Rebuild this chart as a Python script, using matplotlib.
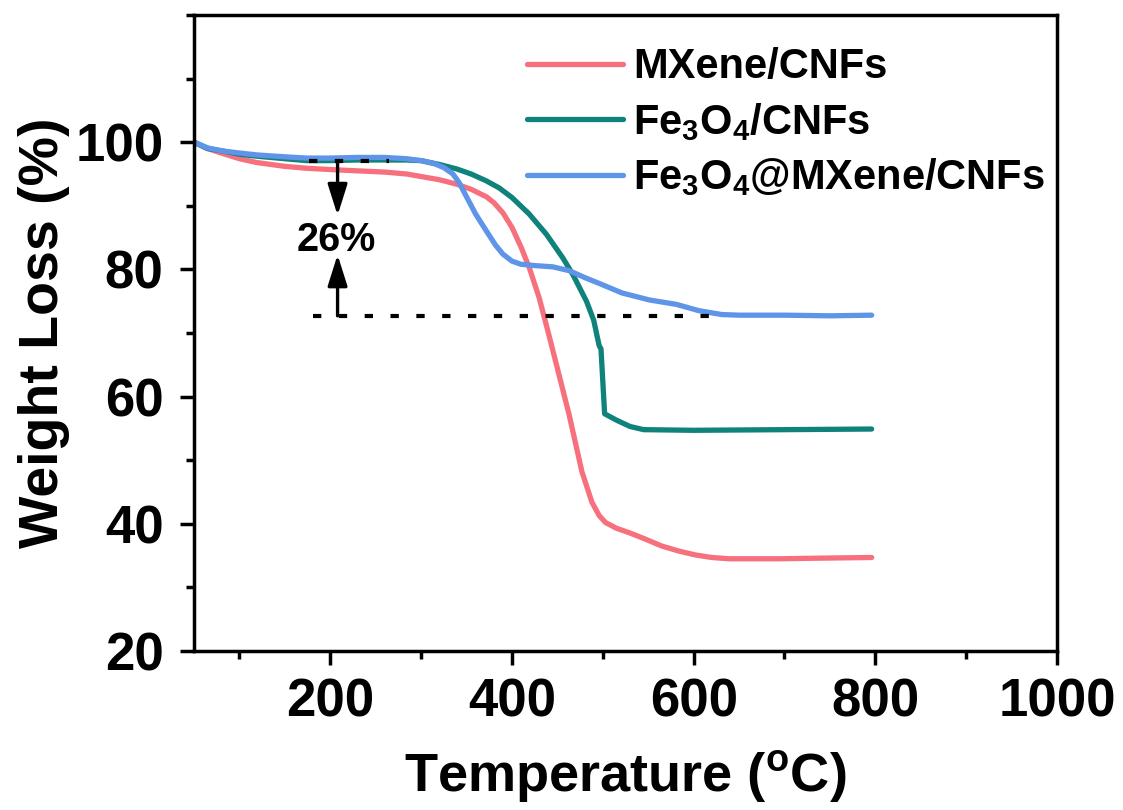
import matplotlib
matplotlib.use("Agg")
import matplotlib.pyplot as plt
from matplotlib.ticker import MultipleLocator

plt.rcParams['font.family'] = ['Liberation Sans', 'DejaVu Sans']
plt.rcParams['font.weight'] = 'bold'
plt.rcParams['mathtext.fontset'] = 'custom'
plt.rcParams['mathtext.rm'] = 'Liberation Sans:bold'
plt.rcParams['mathtext.it'] = 'Liberation Sans:bold'
plt.rcParams['mathtext.bf'] = 'Liberation Sans:bold'

# ---- data ----
t_mxene = [50, 65, 82, 100, 119, 150, 174, 200, 229, 260, 284, 300, 320, 339, 355,
           372, 380, 390, 400, 410, 419, 430, 441, 449, 463, 477, 488, 496, 503, 515, 529,
           545, 565, 584, 602, 620, 639, 660, 694, 740, 796]
w_mxene = [100, 99.0, 98.2, 97.4, 96.8, 96.2, 95.9, 95.7, 95.5, 95.3, 95.0, 94.6, 94.1,
           93.4, 92.6, 91.4, 90.5, 88.9, 86.6, 83.5, 80.3, 75.5, 69.5, 65.0, 57.1, 48.2, 43.4,
           41.3, 40.2, 39.3, 38.6, 37.7, 36.5, 35.7, 35.1, 34.7, 34.5, 34.5, 34.5, 34.6, 34.7]

t_fe3o4 = [50, 65, 82, 100, 119, 150, 174, 200, 229, 260, 284, 300, 320, 339, 355, 372,
           386, 400, 419, 438, 456, 467, 482, 490, 496, 498, 502, 515, 530, 545, 600, 700, 796]
w_fe3o4 = [100, 99.0, 98.6, 98.1, 97.8, 97.4, 97.1, 97.1, 97.2, 97.2, 97.2, 97.1, 96.5,
           95.8, 95.0, 93.9, 92.8, 91.3, 88.7, 85.5, 81.8, 79.2, 75.0, 72.0, 68.0, 67.5,
           57.3, 56.3, 55.3, 54.8, 54.7, 54.8, 54.9]

t_hybrid = [50, 65, 82, 100, 119, 150, 174, 200, 229, 260, 284, 300, 315, 325, 335, 342,
            350, 360, 372, 382, 390, 400, 410, 425, 445, 463, 482, 496, 521, 551, 581, 606,
            631, 650, 700, 750, 796]
w_hybrid = [100, 99.1, 98.6, 98.3, 98.0, 97.7, 97.5, 97.5, 97.6, 97.6, 97.4, 97.1, 96.6,
            96.0, 95.0, 93.6, 91.4, 88.7, 86.0, 83.8, 82.4, 81.3, 80.8, 80.6, 80.4, 79.8,
            78.6, 77.8, 76.3, 75.2, 74.5, 73.5, 72.9, 72.8, 72.8, 72.7, 72.8]

labels = ['MXene/CNFs', 'Fe$_3$O$_4$/CNFs', 'Fe$_3$O$_4$@MXene/CNFs']
colors = ['#F7707E', '#10827C', '#5E95E8']

upper_level = 97.0
lower_level = 72.7
upper_span = [176, 265]
lower_span = [181, 631]
arrow_T = 208
upper_tip = 88.5
lower_tip = 82.3
annot_text = '26%'

fig = plt.figure(figsize=(11.23, 8.10), dpi=100)
ax = fig.add_axes([0.1728, 0.1963, 0.7684, 0.7852])

for t, w, c, lab in [(t_mxene, w_mxene, colors[0], labels[0]),
                     (t_fe3o4, w_fe3o4, colors[1], labels[1]),
                     (t_hybrid, w_hybrid, colors[2], labels[2])]:
    ax.plot(t, w, color=c, lw=3.8, label=lab, solid_capstyle='round', solid_joinstyle='round')

# dotted guide lines
ax.plot(upper_span, [upper_level, upper_level], color='black', lw=3, dashes=(2, 4.2))
ax.plot(lower_span, [lower_level, lower_level], color='black', lw=3, dashes=(2, 4.2))

# arrows
astyle = '-|>,head_length=0.95,head_width=0.3'
ax.annotate('', xy=(arrow_T, upper_tip), xytext=(arrow_T, upper_level),
            arrowprops=dict(arrowstyle=astyle, color='black', lw=2.4,
                            shrinkA=0, shrinkB=0, mutation_scale=20))
ax.annotate('', xy=(arrow_T, lower_tip), xytext=(arrow_T, lower_level),
            arrowprops=dict(arrowstyle=astyle, color='black', lw=2.4,
                            shrinkA=0, shrinkB=0, mutation_scale=20))
ax.text(206, 84.6, annot_text, fontsize=28.5, fontweight='bold', ha='center', va='center')

ax.set_xlim(50, 1000)
ax.set_ylim(20, 120)
ax.xaxis.set_major_locator(MultipleLocator(200))
ax.xaxis.set_minor_locator(MultipleLocator(100))
ax.set_yticks([20, 40, 60, 80, 100])
ax.yaxis.set_minor_locator(MultipleLocator(10))

ax.tick_params(which='major', direction='out', length=10, width=2.5, labelsize=38)
ax.tick_params(axis='y', which='major', pad=12)
ax.tick_params(axis='x', which='major', pad=9)
ax.tick_params(which='minor', direction='out', length=5.5, width=2.5)
for lab in ax.get_xticklabels() + ax.get_yticklabels():
    lab.set_fontweight('bold')
for s in ax.spines.values():
    s.set_linewidth(2.5)

ax.set_xlabel('Temperature ($^{o}$C)', fontsize=39, fontweight='bold', labelpad=16)
ax.set_ylabel('Weight Loss (%)', fontsize=40, fontweight='bold', labelpad=4)

leg = ax.legend(loc='upper left', bbox_to_anchor=(0.345, 1.005), frameon=False,
                fontsize=30, handlelength=2.3, handletextpad=0.25, labelspacing=0.33,
                borderaxespad=0.45)
for line in leg.get_lines():
    line.set_linewidth(3.8)

fig.savefig('out.png', dpi=100)
